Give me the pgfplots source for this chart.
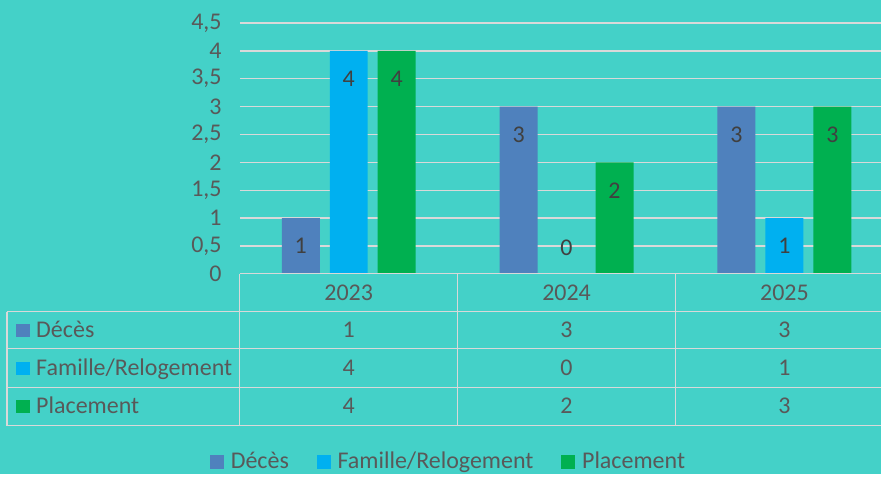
\documentclass[border=0pt]{standalone}
\usepackage{pgfplots}
\pgfplotsset{compat=1.18}
\usepackage{fontspec}
\setmainfont{Carlito}
\definecolor{bg}{RGB}{68,209,200}
\definecolor{deces}{RGB}{79,129,189}
\definecolor{famille}{RGB}{0,176,240}
\definecolor{placement}{RGB}{0,176,80}
\definecolor{gridc}{RGB}{217,217,217}
\definecolor{txt}{RGB}{89,89,89}
\definecolor{lbl}{RGB}{64,64,64}
\pgfplotsset{
  every tick label/.style={font=\fontsize{18}{20}\selectfont, text=txt},
  every node near coord/.style={font=\fontsize{18}{20}\selectfont, text=lbl, anchor=center, yshift=-21pt},
}
\begin{document}
\begin{tikzpicture}
\begin{scope}[x=0.75pt,y=-0.75pt]
\fill[bg] (0,0) rectangle (882,474);
\end{scope}
\begin{axis}[
  at={(180pt,-205.5pt)}, anchor=south west,
  font=\fontsize{18}{20}\selectfont,
  scale only axis, width=481.5pt, height=188.25pt,
  xmin=-0.5, xmax=2.445, ymin=0, ymax=4.5,
  ybar=7.5pt, bar width=28.5pt,
  axis line style={draw=none},
  xtick=\empty,
  ytick={0,0.5,1,1.5,2,2.5,3,3.5,4,4.5},
  yticklabels={0,{0,5},1,{1,5},2,{2,5},3,{3,5},4,{4,5}},
  ymajorgrids, grid style={gridc, line width=1pt},
  major tick length=0pt,
  yticklabel style={anchor=east, inner sep=0pt, xshift=-13.5pt},
  nodes near coords,
  /pgf/number format/assume math mode=true,
  coordinate style/.condition={y==0}{yshift=40.5pt},
  legend columns=3,
  legend image code/.code={\fill[#1] (0pt,-5.25pt) rectangle (10.5pt,5.25pt);},
  legend style={at={(axis description cs:0.327,-0.749)}, anchor=center, draw=none, fill=none,
    font=\fontsize{18}{20}\selectfont, text=txt,
    /tikz/every odd column/.append style={column sep=2pt},
    /tikz/every even column/.append style={column sep=18pt},
    nodes={inner sep=3pt}},
]
\addplot[fill=deces, draw=none] coordinates {(0,1) (1,3) (2,3)};
\addplot[fill=famille, draw=none] coordinates {(0,4) (1,0) (2,1)};
\addplot[fill=placement, draw=none] coordinates {(0,4) (1,2) (2,3)};
\legend{Décès, Famille/Relogement, Placement}
\end{axis}
\begin{scope}[x=0.75pt,y=-0.75pt]
\begin{scope}[draw=gridc, line width=1pt]
\draw (240,274) -- (882,274);
\foreach \y in {312,349,388,426} \draw (7,\y) -- (882,\y);
\draw (7,312) -- (7,426);
\foreach \x in {240,458,676} \draw (\x,274) -- (\x,426);
\end{scope}
\begin{scope}[every node/.style={font=\fontsize{18}{20}\selectfont, text=txt, inner sep=0pt}]
\node[anchor=base] at (349,301) {2023};
\node[anchor=base] at (567,301) {2024};
\node[anchor=base] at (785,301) {2025};
\fill[deces] (16,324) rectangle (30,337);
\fill[famille] (16,362) rectangle (30,375);
\fill[placement] (16,400) rectangle (30,413);
\node[anchor=base west] at (36,338) {Décès};
\node[anchor=base west] at (36,376) {Famille/Relogement};
\node[anchor=base west] at (36,414) {Placement};
\node[anchor=base] at (349,338) {1};
\node[anchor=base] at (567,338) {3};
\node[anchor=base] at (785,338) {3};
\node[anchor=base] at (349,376) {4};
\node[anchor=base] at (567,376) {0};
\node[anchor=base] at (785,376) {1};
\node[anchor=base] at (349,414) {4};
\node[anchor=base] at (567,414) {2};
\node[anchor=base] at (785,414) {3};
\end{scope}
\end{scope}
\end{tikzpicture}
\end{document}
